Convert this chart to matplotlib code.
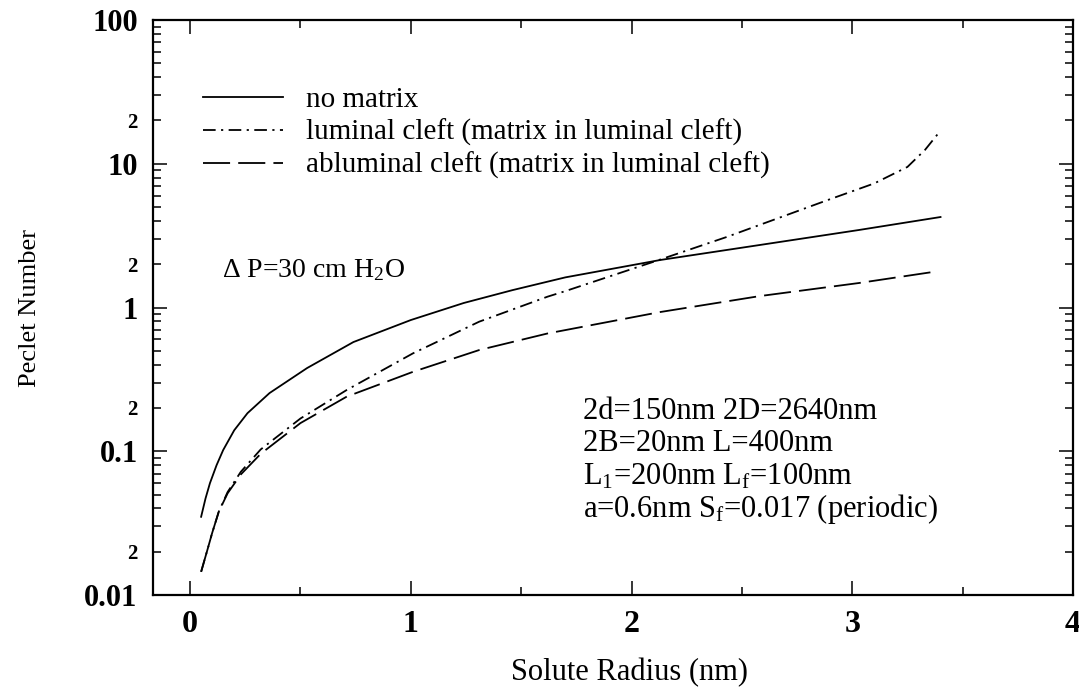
import matplotlib
matplotlib.use("Agg")
import matplotlib.pyplot as plt
from matplotlib.ticker import FixedLocator, FuncFormatter, MultipleLocator
from matplotlib.lines import Line2D
import numpy as np

plt.rcParams['font.family'] = ['Liberation Serif', 'DejaVu Serif']
plt.rcParams['mathtext.fontset'] = 'custom'
plt.rcParams['mathtext.rm'] = 'Liberation Serif'
plt.rcParams['mathtext.it'] = 'Liberation Serif:italic'

# solute radius (nm) vs Peclet number
noMatrixX = [0.05, 0.07, 0.09, 0.12, 0.15, 0.2, 0.26, 0.36, 0.53, 0.74, 1.0,
             1.24, 1.46, 1.7, 2.13, 2.58, 3.03, 3.4]
noMatrixY = [0.035, 0.047, 0.060, 0.08, 0.102, 0.14, 0.184, 0.254, 0.379, 0.575,
             0.818, 1.075, 1.32, 1.62, 2.14, 2.72, 3.46, 4.26]

luminalX = [0.05, 0.08, 0.1, 0.13, 0.17, 0.23, 0.32, 0.5, 0.71, 1.01, 1.31,
            1.62, 1.7, 2.1, 2.43, 2.89, 3.1, 3.25, 3.33, 3.4]
luminalY = [0.0145, 0.021, 0.027, 0.038, 0.052, 0.072, 0.103, 0.169, 0.267,
            0.48, 0.797, 1.19, 1.3, 2.08, 3.09, 5.6, 7.3, 9.5, 12.5, 17.0]

abluminalX = [0.05, 0.08, 0.1, 0.13, 0.17, 0.23, 0.32, 0.5, 0.71, 1.01, 1.31,
              1.62, 2.13, 2.58, 3.03, 3.38]
abluminalY = [0.0145, 0.021, 0.027, 0.038, 0.051, 0.069, 0.096, 0.157, 0.24,
              0.357, 0.506, 0.66, 0.93, 1.2, 1.48, 1.78]

seriesLabels = ["no matrix",
                "luminal cleft (matrix in luminal cleft)",
                "abluminal cleft (matrix in luminal cleft)"]

yMajor = [0.01, 0.1, 1, 10, 100]
yMajorLabels = ["0.01", "0.1", "1", "10", "100"]
xMajor = [0, 1, 2, 3, 4]

paramLines = ["2d=150nm 2D=2640nm",
              "2B=20nm L=400nm",
              r"L$_\mathrm{1}$=200nm L$_\mathrm{f}$=100nm",
              r"a=0.6nm S$_\mathrm{f}$=0.017 (periodic)"]

fig = plt.figure(figsize=(10.79, 6.87), dpi=100)
ax = fig.add_axes([0.1418, 0.1339, 0.8526, 0.8370])

lw = 1.3
dashDot = (0, (7, 3, 1.2, 3))
longDash = (0, (15, 4.5))
ax.plot(noMatrixX, noMatrixY, color="black", lw=lw, linestyle="-")
ax.plot(luminalX, luminalY, color="black", lw=lw, linestyle=dashDot)
ax.plot(abluminalX, abluminalY, color="black", lw=lw, linestyle=longDash)

ax.set_yscale("log")
ax.set_ylim(0.01, 100)
ax.set_xlim(-0.168, 4.0)

ax.yaxis.set_major_locator(FixedLocator(yMajor))
ax.set_yticklabels(yMajorLabels)
minorTicks = [m * d for d in [0.01, 0.1, 1, 10] for m in range(2, 10)]
ax.yaxis.set_minor_locator(FixedLocator(minorTicks))
ax.yaxis.set_minor_formatter(FuncFormatter(
    lambda v, p: "2" if abs(v / 10 ** np.floor(np.log10(v) + 1e-9) - 2) < 1e-6 else ""))

ax.xaxis.set_major_locator(FixedLocator(xMajor))
ax.xaxis.set_minor_locator(MultipleLocator(0.5))

ax.tick_params(which="both", direction="in", top=True, right=True, width=1.1)
ax.tick_params(which="major", length=10)
ax.tick_params(which="minor", length=6)
ax.tick_params(axis="y", which="major", labelsize=22, pad=11)
ax.tick_params(axis="y", which="minor", labelsize=15, pad=11)
ax.tick_params(axis="x", which="major", labelsize=23, pad=11)
for lab in ax.get_yticklabels(which="both") + ax.get_xticklabels():
    lab.set_fontweight("bold")

for sp in ax.spines.values():
    sp.set_linewidth(1.6)

ax.set_xlabel("Solute Radius (nm)", fontsize=22)
ax.xaxis.set_label_coords(0.5185, -0.11)
ax.set_ylabel("Peclet Number", fontsize=19)
ax.yaxis.set_label_coords(-0.122, 0.5)

handles = [Line2D([], [], color="black", lw=lw, linestyle="-"),
           Line2D([], [], color="black", lw=lw, linestyle=dashDot),
           Line2D([], [], color="black", lw=lw, linestyle=longDash)]
ax.legend(handles, seriesLabels, loc="upper left", bbox_to_anchor=(0.054, 0.884),
          frameon=False, fontsize=21, handlelength=2.75, handletextpad=0.8,
          labelspacing=0.2, borderpad=0, borderaxespad=0)

ax.text(0.075, 0.565, r"Δ P=30 cm H$_\mathrm{2}$O", transform=ax.transAxes,
        fontsize=20, va="center", ha="left")

for i, line in enumerate(paramLines):
    ax.text(0.467, 0.32 - i * 0.057, line, transform=ax.transAxes,
            fontsize=22, va="center", ha="left")

plt.savefig("out.png", dpi=100)
plt.close()
